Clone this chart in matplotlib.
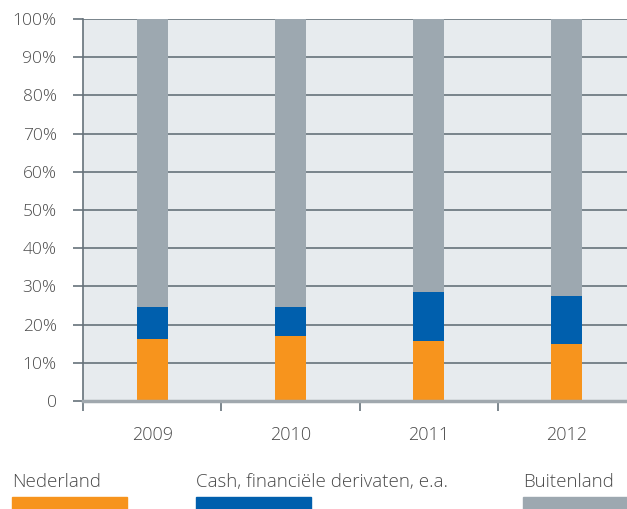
import matplotlib.pyplot as plt
import numpy as np
from matplotlib.patches import Rectangle

years = ['2009', '2010', '2011', '2012']
nederland = [16.2, 17.0, 15.7, 14.9]
cash = [8.4, 7.6, 12.8, 12.6]
buitenland = [75.4, 75.4, 71.5, 72.5]
series_names = ['Nederland', 'Cash, financiële derivaten, e.a.', 'Buitenland']
colors = ['#f7941d', '#005fad', '#9da8b0']

plt.rcParams['font.family'] = ['Open Sans', 'DejaVu Sans']
plt.rcParams['font.weight'] = 'light'

fig = plt.figure(figsize=(6.27, 5.09), dpi=100)
ax = fig.add_axes([83 / 627, 1 - 401 / 509, 553 / 627, 382 / 509])
ax.set_facecolor('#e7ebee')

x = np.arange(len(years))
w = 31 / 138
bottom = np.zeros(len(years))
for vals, c in zip([nederland, cash, buitenland], colors):
    ax.bar(x, vals, width=w, bottom=bottom, color=c, zorder=3)
    bottom += np.array(vals)

ax.set_xlim(-0.5, 3.5)
ax.set_ylim(0, 100)
ax.set_yticks(np.arange(0, 101, 10))
ax.set_yticklabels(['0'] + ['%d%%' % v for v in range(10, 101, 10)])
ax.yaxis.grid(True, color='#66727a', linewidth=1.2, zorder=1)
ax.set_axisbelow(True)

ax.set_xticks(x)
ax.set_xticklabels(years)
ax.set_xticks(np.arange(-0.5, 4, 1), minor=True)
ax.tick_params(axis='x', which='major', length=0, pad=18, labelsize=13, labelcolor='#4a4a4a')
ax.tick_params(axis='x', which='minor', length=7, width=1.2, color='#66727a', direction='out')
ax.tick_params(axis='y', length=7, width=1.2, color='#66727a', pad=12, labelsize=12.5, labelcolor='#4a4a4a')

for s in ['top', 'right']:
    ax.spines[s].set_visible(False)
ax.spines['left'].set_color('#66727a')
ax.spines['left'].set_linewidth(1.2)
ax.spines['bottom'].set_color('#a0a8ae')
ax.spines['bottom'].set_linewidth(2.5)
ax.spines['bottom'].set_zorder(4)

# legend along the bottom
leg_x = [12, 196, 523]
for lx, name, c in zip(leg_x, series_names, colors):
    fig.text(lx / 627, 1 - 482 / 509, name, fontsize=13.5, color='#4a4a4a', va='center', ha='left')
    fig.patches.append(Rectangle((lx / 627, 0), 115 / 627, 12 / 509, transform=fig.transFigure,
                                 color=c, figure=fig))

fig.savefig('out.png', dpi=100)
